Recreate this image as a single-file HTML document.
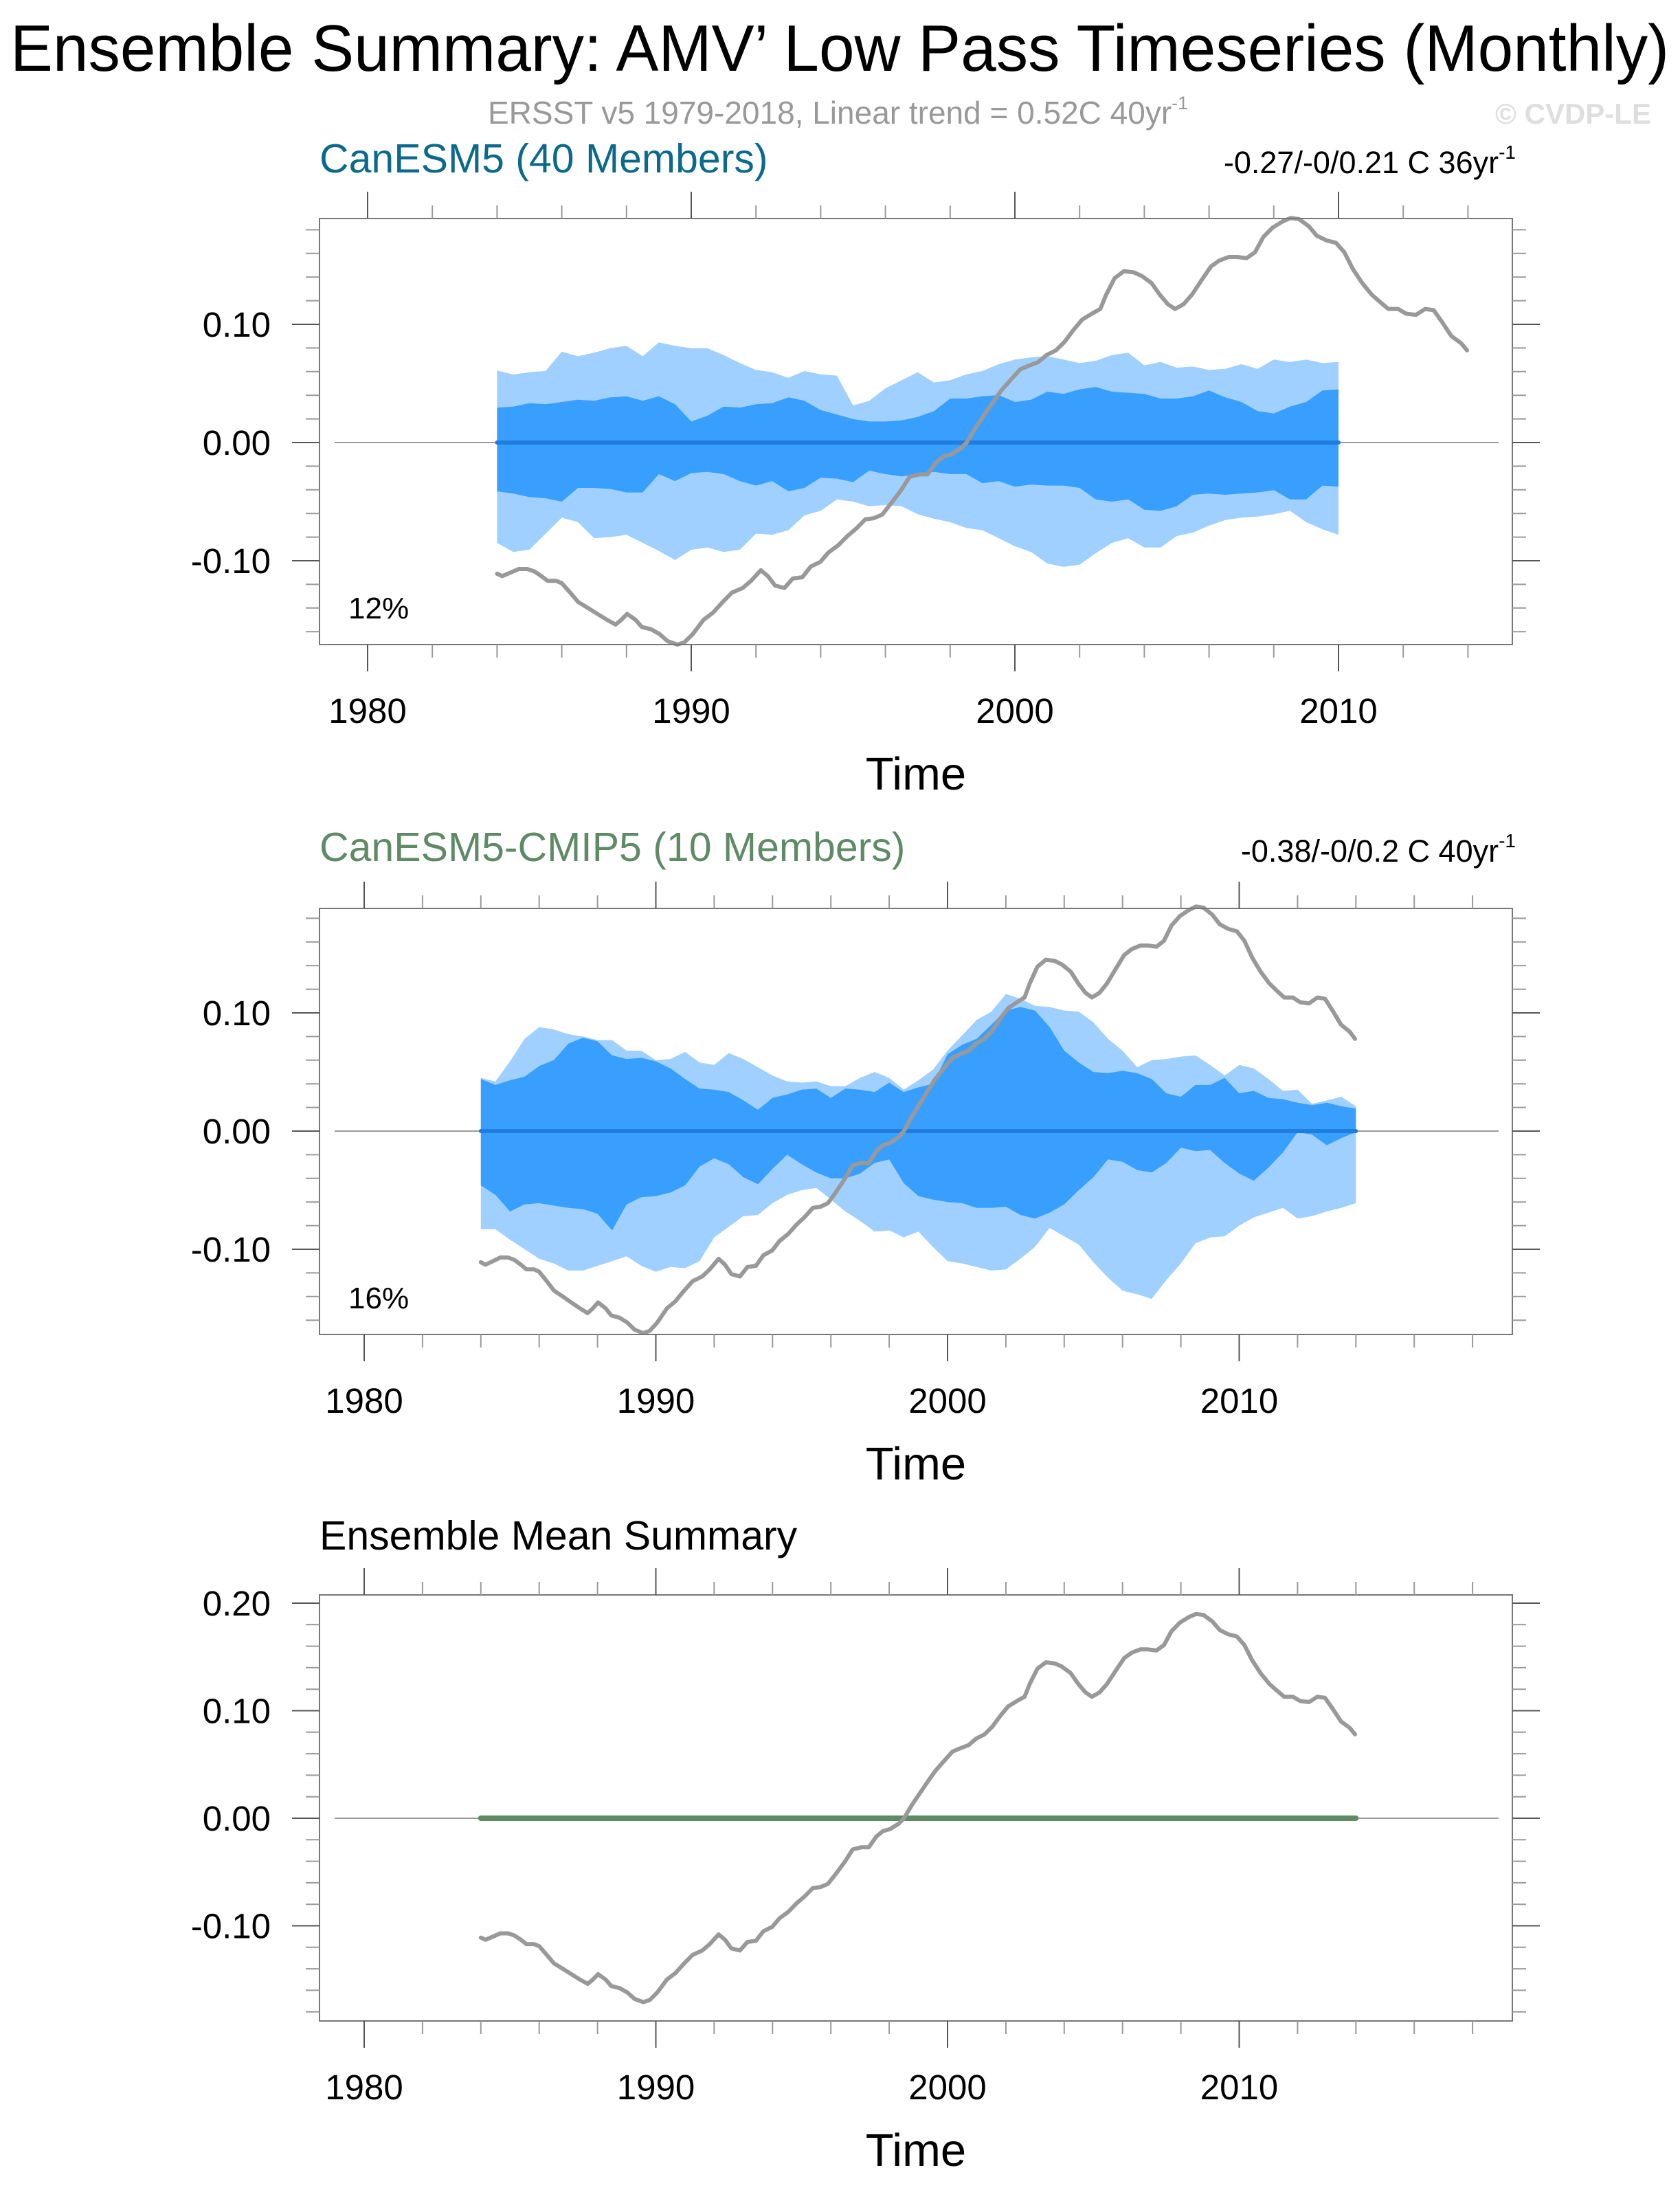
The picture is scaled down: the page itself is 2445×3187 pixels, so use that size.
<!DOCTYPE html>
<html><head><meta charset="utf-8">
<style>
html,body{margin:0;padding:0;background:#fff;}
svg{display:block;font-family:"Liberation Sans",sans-serif;}
</style></head>
<body>
<svg id="chart" width="2445" height="3187" viewBox="0 0 2445 3187" xmlns="http://www.w3.org/2000/svg">
<rect width="2445" height="3187" fill="#fff"/>
<text x="15" y="103" font-size="96" textLength="2414" lengthAdjust="spacingAndGlyphs" fill="#000">Ensemble Summary: AMV’ Low Pass Timeseries (Monthly)</text>
<text x="710" y="180" font-size="46" fill="#999">ERSST v5 1979-2018, Linear trend = 0.52C 40yr<tspan font-size="27" dy="-21">-1</tspan></text>
<text x="2176" y="180" font-size="42" font-weight="bold" fill="#dedede">© CVDP-LE</text>

<text x="465" y="251" font-size="59" fill="#0b6a8c">CanESM5 (40 Members)</text>
<text x="2206" y="252" font-size="45" text-anchor="end" fill="#000">-0.27/-0/0.21 C 36yr<tspan font-size="28" dy="-21">-1</tspan></text>
<text x="465" y="1253" font-size="59" fill="#5f8a66">CanESM5-CMIP5 (10 Members)</text>
<text x="2206" y="1254" font-size="45" text-anchor="end" fill="#000">-0.38/-0/0.2 C 40yr<tspan font-size="28" dy="-21">-1</tspan></text>
<text x="465" y="2255" font-size="59" fill="#000">Ensemble Mean Summary</text>
<g id="plots"></g>
</svg>
<script>
// ---------- data ----------
const obsYears = [1984.0,1984.16,1984.42,1984.67,1984.93,1985.15,1985.37,1985.56,1985.82,1986.0,1986.26,1986.51,1986.81,1987.1,1987.4,1987.66,1987.84,1988.02,1988.28,1988.47,1988.76,1989.02,1989.27,1989.57,1989.79,1990.05,1990.38,1990.67,1990.97,1991.26,1991.59,1991.85,1992.15,1992.37,1992.59,1992.88,1993.14,1993.43,1993.69,1993.99,1994.24,1994.54,1994.83,1995.09,1995.38,1995.64,1995.9,1996.19,1996.49,1996.75,1997.04,1997.3,1997.56,1997.78,1998.03,1998.33,1998.51,1998.77,1999.07,1999.32,1999.58,1999.87,2000.17,2000.43,2000.72,2000.98,2001.27,2001.53,2001.83,2002.08,2002.38,2002.64,2002.82,2003.08,2003.37,2003.67,2003.92,2004.22,2004.48,2004.73,2004.95,2005.21,2005.47,2005.76,2006.06,2006.32,2006.61,2006.87,2007.16,2007.42,2007.68,2007.97,2008.27,2008.52,2008.78,2009.08,2009.33,2009.63,2009.92,2010.18,2010.44,2010.73,2011.03,2011.28,2011.54,2011.84,2012.09,2012.39,2012.68,2012.94,2013.2,2013.49,2013.79,2013.97];
const obsValues = [-0.111,-0.113,-0.110,-0.107,-0.107,-0.109,-0.113,-0.117,-0.117,-0.119,-0.127,-0.135,-0.140,-0.145,-0.150,-0.154,-0.150,-0.145,-0.150,-0.156,-0.158,-0.162,-0.168,-0.171,-0.169,-0.162,-0.150,-0.144,-0.135,-0.127,-0.123,-0.117,-0.108,-0.113,-0.121,-0.123,-0.115,-0.114,-0.105,-0.101,-0.093,-0.087,-0.079,-0.073,-0.065,-0.064,-0.061,-0.051,-0.040,-0.029,-0.027,-0.027,-0.017,-0.012,-0.010,-0.005,0.000,0.012,0.024,0.034,0.044,0.053,0.062,0.065,0.068,0.074,0.078,0.085,0.096,0.104,0.109,0.113,0.125,0.139,0.145,0.144,0.141,0.135,0.125,0.117,0.113,0.117,0.125,0.137,0.149,0.154,0.157,0.157,0.156,0.161,0.174,0.182,0.187,0.190,0.189,0.183,0.175,0.171,0.169,0.161,0.147,0.135,0.125,0.119,0.113,0.113,0.109,0.108,0.113,0.112,0.102,0.090,0.084,0.078];

// Panel 1 (CanESM5) spread, years 1984..2010 step 0.5
const p1Start = 1984, p1Step = 0.5;
const p1LightUpper = [0.0609,0.0576,0.0595,0.0605,0.0769,0.0730,0.0760,0.0798,0.0818,0.0730,0.0847,0.0818,0.0798,0.0798,0.0740,0.0672,0.0614,0.0595,0.0547,0.0605,0.0576,0.0566,0.0314,0.0353,0.0459,0.0527,0.0595,
 0.0508,0.0527,0.0576,0.0605,0.0663,0.0702,0.0721,0.0731,0.0702,0.0672,0.0692,0.0740,0.0760,0.0653,0.0682,0.0634,0.0643,0.0614,0.0624,0.0663,0.0624,0.0702,0.0682,0.0702,0.0672,0.0682];
const p1DarkUpper = [0.0295,0.0304,0.0333,0.0324,0.0343,0.0362,0.0353,0.0382,0.0391,0.0353,0.0391,0.0324,0.0178,0.0227,0.0304,0.0295,0.0324,0.0333,0.0382,0.0353,0.0275,0.0237,0.0198,0.0178,0.0178,0.0188,0.0217,
 0.0266,0.0372,0.0372,0.0391,0.0401,0.0343,0.0362,0.0430,0.0411,0.0450,0.0469,0.0430,0.0421,0.0411,0.0372,0.0372,0.0391,0.0440,0.0382,0.0343,0.0266,0.0246,0.0304,0.0343,0.0440,0.0450];
const p1DarkLower = [-0.0413,-0.0432,-0.0461,-0.0471,-0.0500,-0.0384,-0.0384,-0.0393,-0.0422,-0.0422,-0.0267,-0.0326,-0.0258,-0.0248,-0.0267,-0.0326,-0.0364,-0.0326,-0.0413,-0.0384,-0.0297,-0.0306,-0.0335,-0.0238,-0.0267,-0.0287,-0.0267,
 -0.0248,-0.0267,-0.0267,-0.0345,-0.0326,-0.0374,-0.0355,-0.0364,-0.0364,-0.0384,-0.0481,-0.0500,-0.0481,-0.0568,-0.0578,-0.0539,-0.0442,-0.0432,-0.0442,-0.0432,-0.0422,-0.0403,-0.0481,-0.0481,-0.0364,-0.0374];
const p1LightLower = [-0.0849,-0.0926,-0.0907,-0.0771,-0.0636,-0.0674,-0.0810,-0.0800,-0.0781,-0.0849,-0.0917,-0.0994,-0.0907,-0.0888,-0.0926,-0.0907,-0.0771,-0.0781,-0.0742,-0.0616,-0.0578,-0.0481,-0.0500,-0.0539,-0.0529,-0.0539,-0.0607,
 -0.0645,-0.0674,-0.0723,-0.0742,-0.0810,-0.0878,-0.0926,-0.1023,-0.1052,-0.1033,-0.0936,-0.0849,-0.0810,-0.0888,-0.0888,-0.0791,-0.0762,-0.0703,-0.0655,-0.0636,-0.0626,-0.0607,-0.0578,-0.0674,-0.0733,-0.0781];

// Panel 2 (CanESM5-CMIP5) spread, years 1984..2014 step 0.5
const p2Start = 1984, p2Step = 0.5;
const p2LightUpper = [0.045,0.042,0.059,0.078,0.088,0.086,0.082,0.080,0.077,0.077,0.068,0.068,0.060,0.061,0.067,0.058,0.056,0.066,0.061,0.054,0.047,0.042,0.041,0.042,0.038,0.038,0.045,0.050,0.045,0.035,0.043,
 0.052,0.068,0.081,0.094,0.101,0.116,0.112,0.106,0.105,0.102,0.101,0.092,0.078,0.068,0.054,0.060,0.061,0.063,0.064,0.056,0.047,0.056,0.053,0.044,0.034,0.035,0.023,0.026,0.029,0.021];
const p2DarkUpper = [0.044,0.039,0.043,0.046,0.055,0.060,0.074,0.079,0.076,0.064,0.061,0.062,0.059,0.053,0.044,0.036,0.035,0.033,0.026,0.018,0.028,0.031,0.035,0.036,0.028,0.036,0.035,0.033,0.041,0.033,0.037,
 0.040,0.065,0.073,0.078,0.090,0.102,0.105,0.102,0.088,0.068,0.058,0.050,0.049,0.051,0.049,0.044,0.032,0.029,0.039,0.039,0.045,0.032,0.034,0.028,0.027,0.024,0.022,0.024,0.021,0.019];
const p2DarkLower = [-0.046,-0.054,-0.068,-0.062,-0.061,-0.063,-0.065,-0.066,-0.070,-0.084,-0.062,-0.056,-0.055,-0.052,-0.046,-0.030,-0.023,-0.028,-0.039,-0.045,-0.032,-0.020,-0.028,-0.035,-0.040,-0.040,-0.036,-0.027,-0.024,-0.044,-0.055,
 -0.058,-0.060,-0.061,-0.065,-0.065,-0.064,-0.071,-0.074,-0.069,-0.062,-0.050,-0.039,-0.024,-0.026,-0.033,-0.035,-0.027,-0.014,-0.017,-0.016,-0.027,-0.036,-0.042,-0.031,-0.018,-0.001,-0.003,-0.012,-0.006,-0.001];
const p2LightLower = [-0.083,-0.083,-0.092,-0.100,-0.108,-0.112,-0.118,-0.118,-0.114,-0.110,-0.106,-0.114,-0.119,-0.115,-0.116,-0.110,-0.090,-0.081,-0.072,-0.071,-0.061,-0.054,-0.050,-0.048,-0.058,-0.068,-0.076,-0.085,-0.084,-0.090,-0.085,
 -0.098,-0.110,-0.112,-0.115,-0.118,-0.117,-0.108,-0.098,-0.082,-0.089,-0.096,-0.111,-0.124,-0.135,-0.138,-0.142,-0.126,-0.112,-0.095,-0.090,-0.089,-0.080,-0.073,-0.069,-0.065,-0.074,-0.072,-0.068,-0.065,-0.061];

// Ensemble means (zero after removing the mean)
const p1MeanYears = [1984, 2010];
const p1MeanValues = [0, 0];
const p2MeanYears = [1984, 2014];
const p2MeanValues = [0, 0];
const p3MeanYears = [1984, 2014];
const p3MeanValues = [0, 0];

const xMajorTicks = [1980, 1990, 2000, 2010];
const xMajorLabels = ["1980", "1990", "2000", "2010"];
const p12YTicks = [0.10, 0.00, -0.10];
const p12YLabels = ["0.10", "0.00", "-0.10"];
const p3YTicks = [0.20, 0.10, 0.00, -0.10];
const p3YLabels = ["0.20", "0.10", "0.00", "-0.10"];

// ---------- drawing ----------
const NS = "http://www.w3.org/2000/svg";
const root = document.getElementById('plots');
function mk(tag, attrs, parent) {
  const e = document.createElementNS(NS, tag);
  for (const k in attrs) e.setAttribute(k, attrs[k]);
  (parent || root).appendChild(e);
  return e;
}
function yearsFrom(start, step, n) { const a = []; for (let i = 0; i < n; i++) a.push(start + step * i); return a; }

function drawPanel(cfg) {
  const g = mk('g', {});
  
  
  const X = y => cfg.x0 + (y - 1980) * cfg.pxYear;
  const Y = v => cfg.zeroY - v * cfg.pxUnit;
  const L = 465, R = 2201, T = cfg.top, B = cfg.top + 620;

  function band(years, up, lo, color, nm) {
    let d = '';
    years.forEach((yr, i) => { d += (i ? 'L' : 'M') + X(yr).toFixed(1) + ',' + Y(up[i]).toFixed(1); });
    for (let i = years.length - 1; i >= 0; i--) d += 'L' + X(years[i]).toFixed(1) + ',' + Y(lo[i]).toFixed(1);
    const p = mk('path', { d: d + 'Z', fill: color }, g);
    
    
  }
  if (cfg.bands) {
    const b = cfg.bands;
    const yrs = yearsFrom(b.start, b.step, b.lu.length);
    band(yrs, b.lu, b.ll, '#9fd0ff', 'spread-10-90-band');
    band(yrs, b.du, b.dl, '#389fff', 'spread-25-75-band');
  }
  const z = mk('line', { x1: 487, x2: 2181, y1: Y(0), y2: Y(0), stroke: '#9a9a9a', 'stroke-width': 2 }, g);
  
  
  function line(xs, vs, color, w, nm) {
    let d = '';
    xs.forEach((yr, i) => { d += (i ? 'L' : 'M') + X(yr).toFixed(1) + ',' + Y(vs[i]).toFixed(1); });
    const p = mk('path', { d: d, fill: 'none', stroke: color, 'stroke-width': w, 'stroke-linejoin': 'round', 'stroke-linecap': 'round' }, g);
    
    
  }
  line(cfg.meanYears, cfg.meanValues, cfg.meanColor, cfg.meanWidth, 'ensemble-mean-line');
  line(obsYears, obsValues, '#999999', 6, 'observed-ersst-line');

  const f = mk('rect', { x: L, y: T, width: R - L, height: B - T, fill: 'none', stroke: '#777', 'stroke-width': 2 }, g);
  
  

  for (let yr = 1980; yr <= cfg.xMax; yr += 2) {
    const major = yr % 10 === 0;
    const len = major ? 39 : 19, col = major ? '#555' : '#9a9a9a';
    const x = X(yr);
    const t1 = mk('line', { x1: x, x2: x, y1: T, y2: T - len, stroke: col, 'stroke-width': 2 }, g);
    
    
    const t2 = mk('line', { x1: x, x2: x, y1: B, y2: B + len, stroke: col, 'stroke-width': 2 }, g);
    
    
  }
  xMajorTicks.forEach((yr, i) => {
    const t = mk('text', { x: X(yr), y: B + 114, 'font-size': 51, 'text-anchor': 'middle', fill: '#000' }, g);
    t.textContent = xMajorLabels[i];
    
    
  });
  const xt = mk('text', { x: 1333, y: B + 211, 'font-size': 67, 'text-anchor': 'middle', fill: '#000' }, g);
  xt.textContent = 'Time';
  
  

  const vTop = (cfg.zeroY - T) / cfg.pxUnit, vBot = (cfg.zeroY - B) / cfg.pxUnit;
  for (let k = Math.ceil(vBot / 0.02); k * 0.02 <= vTop; k++) {
    const v = k * 0.02;
    const major = k % 5 === 0;
    const len = major ? 40 : 20, col = major ? '#555' : '#9a9a9a';
    const y = Y(v);
    const a = mk('line', { x1: L, x2: L - len, y1: y, y2: y, stroke: col, 'stroke-width': 2 }, g);
    
    
    const b = mk('line', { x1: R, x2: R + len, y1: y, y2: y, stroke: col, 'stroke-width': 2 }, g);
    
    
  }
  cfg.yTicks.forEach((v, i) => {
    const t = mk('text', { x: 394, y: Y(v) + 18, 'font-size': 51, 'text-anchor': 'end', fill: '#000' }, g);
    t.textContent = cfg.yLabels[i];
    
    
  });
  if (cfg.pct) {
    const t = mk('text', { x: 507, y: B - 38, 'font-size': 44, fill: '#000' }, g);
    t.textContent = cfg.pct;
    
    
  }
}

drawPanel({ name: 'panel-canesm5', top: 318, x0: 535, pxYear: 47.1, zeroY: 644, pxUnit: 1720, xMax: 2014,
  bands: { start: p1Start, step: p1Step, lu: p1LightUpper, du: p1DarkUpper, dl: p1DarkLower, ll: p1LightLower },
  meanYears: p1MeanYears, meanValues: p1MeanValues, meanColor: '#1f7de0', meanWidth: 6,
  yTicks: p12YTicks, yLabels: p12YLabels, pct: '12%' });
drawPanel({ name: 'panel-canesm5-cmip5', top: 1322, x0: 530, pxYear: 42.45, zeroY: 1646, pxUnit: 1720, xMax: 2018,
  bands: { start: p2Start, step: p2Step, lu: p2LightUpper, du: p2DarkUpper, dl: p2DarkLower, ll: p2LightLower },
  meanYears: p2MeanYears, meanValues: p2MeanValues, meanColor: '#1f7de0', meanWidth: 6,
  yTicks: p12YTicks, yLabels: p12YLabels, pct: '16%' });
drawPanel({ name: 'panel-ensemble-mean-summary', top: 2321, x0: 530, pxYear: 42.45, zeroY: 2646, pxUnit: 1565, xMax: 2018,
  bands: null,
  meanYears: p3MeanYears, meanValues: p3MeanValues, meanColor: '#5f8a66', meanWidth: 8,
  yTicks: p3YTicks, yLabels: p3YLabels, pct: null });
</script>
</body></html>
